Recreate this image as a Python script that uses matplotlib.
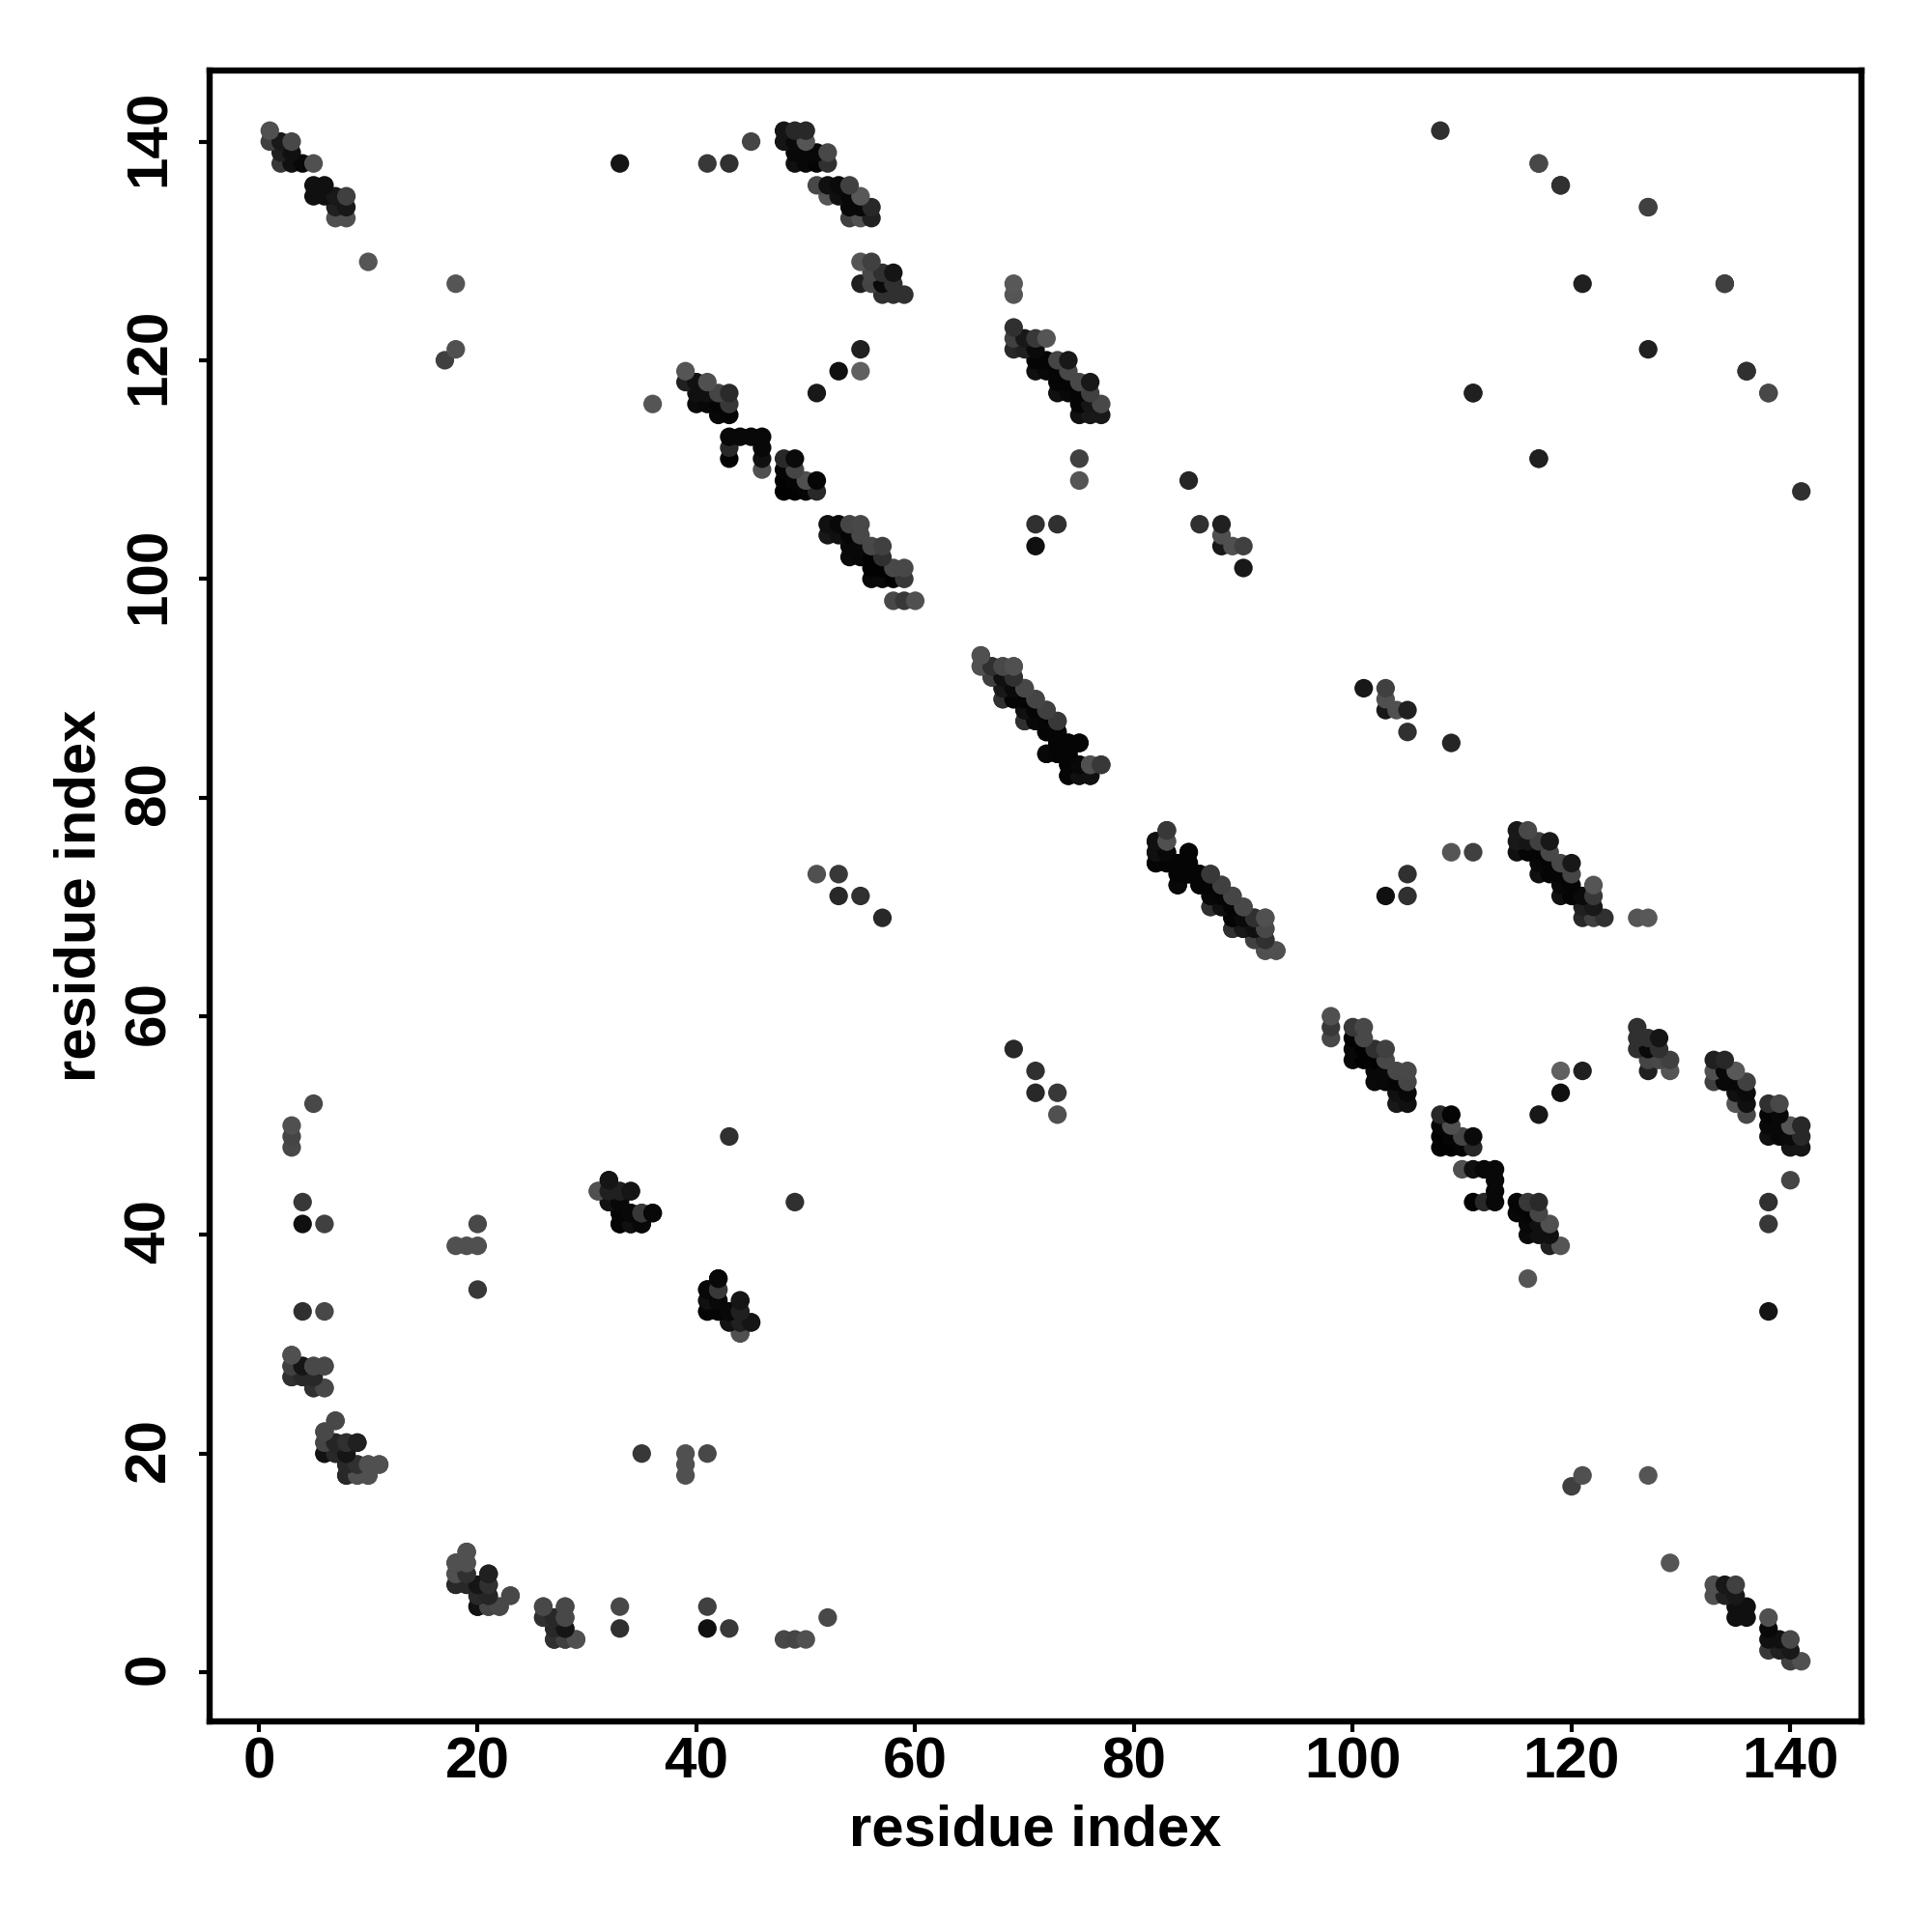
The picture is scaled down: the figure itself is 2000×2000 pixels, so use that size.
import numpy as np
import matplotlib
matplotlib.use('Agg')
import matplotlib.pyplot as plt
from matplotlib.transforms import ScaledTranslation

plt.rcParams['font.family'] = ['Liberation Sans', 'DejaVu Sans']
plt.rcParams['font.weight'] = 'bold'

# contacts above the diagonal, row by row: the map is symmetric so the rest is mirrored
row_y = [
    141, 140, 139, 138, 136, 135, 134, 133, 129, 127, 121, 120,
    141, 140, 139, 138, 136, 135, 134, 133,
    129, 128, 127, 126,
    127, 126, 123, 122, 121, 120, 119, 118, 117, 116, 115,
    119, 118, 117, 116, 115, 113, 112, 111, 110, 109, 108,
    105, 104, 103, 102, 101, 100, 98,
    121, 119, 117, 116,
    141, 138, 136, 134, 127, 121, 119, 117,
    111, 109, 105, 103,
    109, 105, 104, 103, 101,
    93, 92, 91, 90, 89, 88, 87, 86, 85, 84, 83, 82,
    77, 76, 75, 74, 73, 72, 71, 70, 69, 68, 67, 66,
    73, 71, 69,
    52, 50, 49, 48, 43, 41, 33,
    29, 28, 27, 26, 23, 22, 21, 20, 19, 18,
    11, 10, 9, 8, 7, 6, 5, 4, 3,
    45, 44, 43, 42, 41,
    36, 35, 34, 33, 32, 31,
    49, 41, 39, 35,
]
row_x = [
    [1], [1, 2, 3], [2, 3], [2, 3, 4, 5, 33, 41, 43], [5, 6], [5, 6, 7, 8], [7, 8], [7, 8], [10], [18], [18], [17],
    [48, 49, 50], [45, 48, 49, 50], [49, 50, 51, 52], [49, 50, 51, 52], [51, 52, 53, 54], [52, 53, 54, 55], [54, 55, 56], [54, 55, 56],
    [55, 56], [56, 57, 58], [55, 56, 57, 58], [57, 58, 59],
    [69], [69], [69], [69, 70, 71, 72], [69, 70, 71], [71, 72, 73, 74], [71, 72, 73, 74], [73, 74, 75, 76], [73, 74, 75, 76], [75, 76, 77], [75, 76, 77],
    [39], [39, 40, 41], [40, 41, 42, 43], [36, 40, 41, 42, 43], [42, 43], [43, 44, 45, 46], [43, 46], [43, 46, 48, 49], [46, 48, 49], [48, 49, 50, 51], [48, 49, 50, 51],
    [52, 53, 54, 55], [52, 53, 54, 55], [54, 55, 56, 57], [54, 55, 56, 57], [56, 57, 58, 59], [56, 57, 58, 59], [58, 59, 60],
    [55], [53, 55], [51], [],
    [108], [117], [119], [127], [134], [127], [136], [111, 138],
    [75, 117], [75, 85], [71, 73, 86, 88], [71, 88, 89, 90],
    [], [], [88], [], [90],
    [66], [66, 67, 68, 69], [67, 68, 69], [68, 69, 70], [68, 69, 70, 71], [70, 71, 72], [70, 71, 72, 73], [72, 73], [73, 74, 75], [72, 73, 74], [74, 75, 76, 77], [74, 75, 76],
    [83], [82, 83], [82, 83, 85], [82, 83, 84, 85], [84, 85, 86, 87], [84, 86, 87, 88], [87, 88, 89], [87, 88, 89, 90], [89, 90, 91, 92], [89, 90, 91, 92], [91, 92], [92, 93],
    [51, 53], [53, 55], [57],
    [5], [3], [3], [3], [4], [4, 6], [4, 6],
    [3], [3, 4, 5, 6], [3, 4, 5], [5, 6], [7], [6], [6, 7, 8, 9], [6, 7, 8], [8, 9, 10, 11], [8, 9, 10],
    [19], [18, 19], [18, 19, 21], [18, 19, 20, 21], [20, 21, 23], [20, 21, 22, 26, 28], [26, 27, 28], [27, 28], [27, 28, 29],
    [32], [31, 32, 33, 34], [32, 33], [33, 34, 35, 36], [33, 34, 35],
    [42], [41, 42], [41, 42, 44], [41, 42, 43, 44], [43, 44, 45], [44],
    [43], [20], [18, 19, 20], [20],
]
row_grey = [
    [0x50], [0x40, 0x18, 0x48], [0x20, 0x10], [0x38, 0x10, 0x08, 0x50, 0x15, 0x38, 0x30], [0x10, 0x10], [0x10, 0x10, 0x18, 0x40], [0x20, 0x18], [0x50, 0x50], [0x55], [0x55], [0x50], [0x40],
    [0x15, 0x28, 0x28], [0x45, 0x15, 0x0a, 0x55], [0x08, 0x08, 0x08, 0x48], [0x10, 0x08, 0x05, 0x30], [0x48, 0x10, 0x0a, 0x40], [0x55, 0x10, 0x08, 0x58], [0x08, 0x08, 0x28], [0x40, 0x50, 0x20],
    [0x55, 0x40], [0x48, 0x30, 0x15], [0x20, 0x45, 0x0a, 0x30], [0x30, 0x30, 0x30],
    [0x58], [0x55], [0x30], [0x40, 0x18, 0x38, 0x55], [0x28, 0x20, 0x0a], [0x05, 0x05, 0x45, 0x18], [0x10, 0x08, 0x05, 0x48], [0x05, 0x05, 0x48, 0x18], [0x10, 0x08, 0x05, 0x40], [0x05, 0x15, 0x48], [0x10, 0x18, 0x18],
    [0x55], [0x20, 0x10, 0x50], [0x10, 0x10, 0x45, 0x2a], [0x55, 0x0a, 0x08, 0x05, 0x38], [0x08, 0x05], [0x08, 0x08, 0x08, 0x08], [0x28, 0x08], [0x02, 0x10, 0x28, 0x0a], [0x50, 0x05, 0x45], [0x02, 0x05, 0x50, 0x05], [0x02, 0x02, 0x05, 0x28],
    [0x10, 0x08, 0x45, 0x48], [0x18, 0x10, 0x05, 0x48], [0x08, 0x08, 0x48, 0x40], [0x0a, 0x08, 0x02, 0x30], [0x02, 0x02, 0x48, 0x48], [0x08, 0x08, 0x02, 0x38], [0x48, 0x38, 0x50],
    [0x20], [0x10, 0x60], [0x18], [],
    [0x30], [0x50], [0x38], [0x48], [0x40], [0x20], [0x30], [0x20, 0x48],
    [0x40, 0x20], [0x55, 0x25], [0x30, 0x30, 0x30, 0x20], [0x10, 0x18, 0x50, 0x40],
    [], [], [0x50], [], [0x18],
    [0x50], [0x48, 0x25, 0x50, 0x50], [0x30, 0x15, 0x30], [0x18, 0x10, 0x50], [0x30, 0x10, 0x08, 0x50], [0x08, 0x05, 0x40], [0x30, 0x10, 0x05, 0x38], [0x10, 0x05], [0x02, 0x02, 0x05], [0x05, 0x10, 0x02], [0x05, 0x05, 0x50, 0x30], [0x05, 0x0a, 0x05],
    [0x38], [0x10, 0x50], [0x10, 0x08, 0x05], [0x05, 0x05, 0x05, 0x05], [0x05, 0x05, 0x05, 0x38], [0x08, 0x05, 0x05, 0x40], [0x08, 0x05, 0x45], [0x30, 0x10, 0x05, 0x48], [0x05, 0x0a, 0x30, 0x50], [0x30, 0x18, 0x10, 0x48], [0x40, 0x30], [0x50, 0x50],
    [0x50, 0x38], [0x28, 0x30], [0x28],
    [0x48], [0x50], [0x45], [0x48], [0x38], [0x10, 0x40], [0x30, 0x48],
    [0x50], [0x48, 0x15, 0x48, 0x50], [0x30, 0x30, 0x28], [0x30, 0x48], [0x50], [0x50], [0x48, 0x20, 0x28, 0x18], [0x12, 0x20, 0x12], [0x28, 0x30, 0x50, 0x50], [0x28, 0x50, 0x48],
    [0x50], [0x50, 0x50], [0x50, 0x30, 0x20], [0x28, 0x28, 0x15, 0x30], [0x28, 0x25, 0x48], [0x12, 0x45, 0x48, 0x48, 0x48], [0x30, 0x28, 0x48], [0x28, 0x15], [0x30, 0x40, 0x50],
    [0x18], [0x48, 0x10, 0x20, 0x18], [0x18, 0x08], [0x05, 0x05, 0x40, 0x05], [0x05, 0x0a, 0x05],
    [0x08], [0x08, 0x38], [0x10, 0x08, 0x15], [0x05, 0x05, 0x08, 0x20], [0x12, 0x20, 0x15], [0x50],
    [0x30], [0x48], [0x50, 0x50, 0x50], [0x38],
]
tick_values = [0, 20, 40, 60, 80, 100, 120, 140]

xs, ys, greys = [], [], []
for y, row, shades in zip(row_y, row_x, row_grey):
    assert len(row) == len(shades), y
    for x, g in zip(row, shades):
        xs += [x, y]
        ys += [y, x]
        greys += [g, g]

# later points go on top: low rows first, left to right inside a row
xs = np.array(xs)
ys = np.array(ys)
greys = np.array(greys) / 255
order = np.lexsort((xs, ys))

fig = plt.figure(figsize=(10, 10), dpi=200)
ax = fig.add_axes([217 / 2000, 218 / 2000, 1710 / 2000, 1709 / 2000])
ax.scatter(xs[order], ys[order], s=48, c=[(g, g, g) for g in greys[order]], linewidths=0)

ax.set_xlim(-4.5, 146.5)
ax.set_ylim(-4.5, 146.5)
ax.set_xticks(tick_values)
ax.set_yticks(tick_values)
ax.tick_params(axis='both', length=4, width=1.5, labelsize=21.7)
ax.tick_params(axis='x', pad=1.5)
ax.tick_params(axis='y', pad=8.5)
plt.setp(ax.get_yticklabels(), rotation=90, va='center')
# rotated labels sit a little low, nudge them up
nudge = ScaledTranslation(0, 1.4 / 72, fig.dpi_scale_trans)
for label in ax.get_yticklabels():
    label.set_transform(label.get_transform() + nudge)
for side in ax.spines.values():
    side.set_linewidth(2.3)
ax.set_xlabel('residue index', fontsize=21.5, fontweight='bold', labelpad=5.4)
ax.set_ylabel('residue index', fontsize=21.5, fontweight='bold', labelpad=6.2)

fig.savefig('out.png', dpi=200)
